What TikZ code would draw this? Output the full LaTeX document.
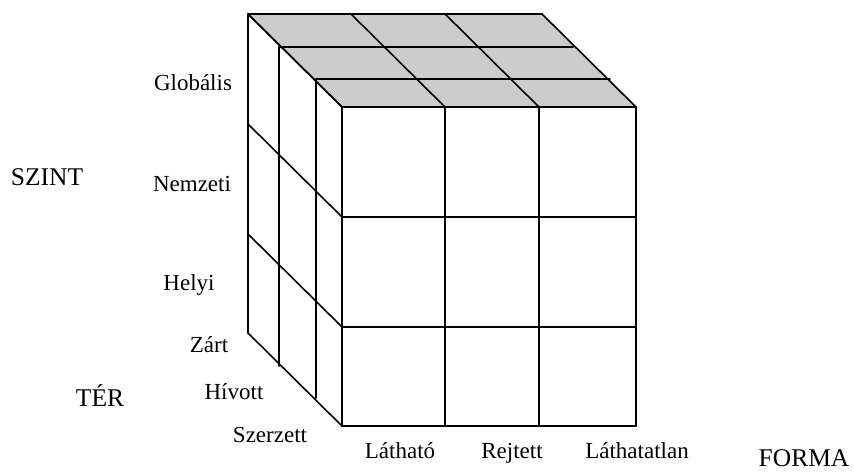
\documentclass[tikz,border=0pt]{standalone}
\usepackage{fontspec}
\setmainfont{Liberation Serif}
\begin{document}
\begin{tikzpicture}[x=1pt,y=-1pt,
  edge/.style={line width=1.6pt, line join=round, line cap=round, black},
  topface/.style={fill=black!20},
  lab/.style={font=\fontsize{23}{26}\selectfont, anchor=base, inner sep=0pt},
  axis/.style={font=\fontsize{25.5}{29}\selectfont, anchor=base, inner sep=0pt}]
\useasboundingbox (0,0) rectangle (854,473);

% front face grid points
\foreach \c/\x in {0/342,1/445,2/539,3/636}
  \foreach \r/\y in {0/107,1/217,2/327,3/426}
    \coordinate (f\c\r) at (\x,\y);

% depth layers: top face points (t<col><layer>) and side face points (s<row><layer>)
\foreach \k/\dx/\dy in {0/0/0,1/-26/-28,2/-63/-60,3/-94/-93} {
  \foreach \c/\x in {0/342,1/445,2/539,3/636}
    \coordinate (t\c\k) at (\x+\dx,107+\dy);
  \foreach \r/\y in {0/107,1/217,2/327,3/426}
    \coordinate (s\r\k) at (342+\dx,\y+\dy);
}

% shaded top face
\fill[topface] (t00) -- (t30) -- (t33) -- (t03) -- cycle;

% top face grid
\foreach \k in {0,1,2,3} \draw[edge] (t0\k) -- (t3\k);
\foreach \c in {0,1,2,3} \draw[edge] (t\c0) -- (t\c3);

% side face grid
\foreach \k in {0,1,2,3} \draw[edge] (s0\k) -- (s3\k);
\foreach \r in {0,1,2,3} \draw[edge] (s\r0) -- (s\r3);

% front face grid
\foreach \c in {0,1,2,3} \draw[edge] (f\c0) -- (f\c3);
\foreach \r in {0,1,2,3} \draw[edge] (f0\r) -- (f3\r);

% level labels
\node[lab] (glob) at (193,91) {Globális};
\node[lab] (nemz) at (192,192) {Nemzeti};
\node[lab] (hely) at (189,290) {Helyi};
\node[axis] (szint) at (47,186) {SZINT};

% space labels
\node[lab] (zart) at (209,352) {Zárt};
\node[lab] (hiv) at (234,399) {Hívott};
\node[lab] (szer) at (270,442) {Szerzett};
\node[axis] (ter) at (100,406) {TÉR};

% form labels
\node[lab] (lat) at (400,458) {Látható};
\node[lab] (rejt) at (512,458) {Rejtett};
\node[lab] (latl) at (637,458) {Láthatatlan};
\node[axis] (forma) at (804,466) {FORMA};
\end{tikzpicture}
\end{document}
